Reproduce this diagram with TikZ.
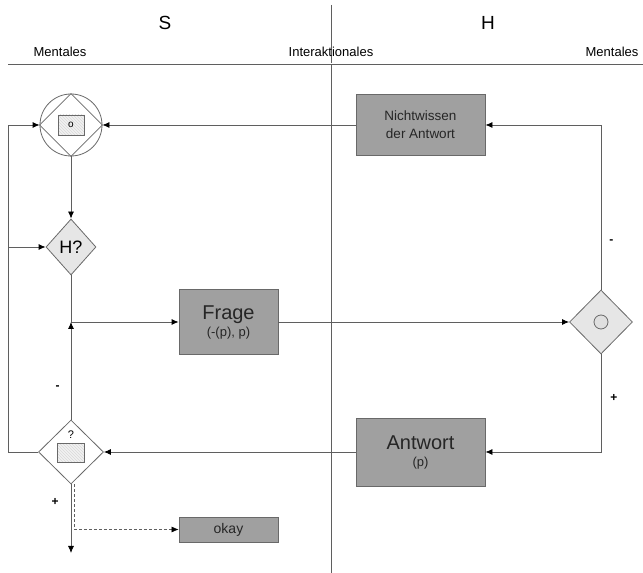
\documentclass[tikz,border=0pt]{standalone}
\usepackage{fontspec}
\setmainfont{Liberation Sans}
\usetikzlibrary{positioning}
\usetikzlibrary{shapes.geometric}
\usetikzlibrary{arrows.meta}
\usetikzlibrary{patterns}
\definecolor{boxgray}{RGB}{160,160,160}
\definecolor{rimgray}{RGB}{105,105,105}
\definecolor{gategray}{RGB}{230,230,230}
\definecolor{linegray}{RGB}{95,95,95}
\newcommand{\fs}[2]{\fontsize{#1}{#2}\selectfont}

\begin{document}
\begin{tikzpicture}
  [
    x=1pt, y=1pt,
    font=\fs{13}{15},
    line width=0.8pt,
    >={Latex[length=7pt,width=6pt,color=black]},
    flow/.style={draw=linegray,->},
    box/.style={
      rectangle,
      draw=rimgray,
      fill=boxgray,
      inner sep=0pt,
      align=center,
      text=black!85
    },
    gate/.style={diamond,draw=rimgray,fill=gategray,inner sep=0pt},
    hatch/.style={
      rectangle,
      draw=rimgray,
      preaction={fill=gray!10},
      pattern=north west lines,
      pattern color=gray!30,
      inner sep=0pt
    },
    sign/.style={font=\fs{12}{12}\bfseries,inner sep=2pt},
  ]
  \useasboundingbox (0,0) rectangle (643,573);

  % header
  \draw[linegray,line width=0.6pt] (331,568) -- (331,0);
  \draw[linegray,line width=0.5pt,double,double distance=1pt] (8,509) -- (643,509);
  \node[font=\fs{19}{19}] (s) at (165,550) {S};
  \node[font=\fs{19}{19}] (h) at (488,550) {H};
  \node (ment-s) at (60,521) {Mentales};
  \node (inter)  at (331,521) {Interaktionales};
  \node (ment-h) at (612,521) {Mentales};

  % nodes
  \node[circle,draw=rimgray,fill=white,minimum size=62pt,inner sep=0pt] (wissen) at (71,448) {};
  \draw[rimgray] (wissen.north) -- (wissen.east) -- (wissen.south) -- (wissen.west) -- cycle;
  \node[hatch,minimum width=26pt,minimum height=20pt,font=\fs{10}{10}] (wissen-p) at (wissen) {o};
  \node[gate,minimum width=50pt,minimum height=56pt,font=\fs{18}{18}] (hq) at (71,326) {H?};
  \node[box,minimum width=99pt,minimum height=65pt] (frage) at (228.5,251)
    {\fs{20}{20}Frage\\[2pt]\fs{13}{13}(-(p), p)};
  \node[box,minimum width=129pt,minimum height=61pt,font=\fs{13.5}{18}] (nicht) at (420.5,448)
    {Nichtwissen\\der Antwort};
  \node[gate,minimum width=63pt,minimum height=64pt] (pruef) at (601,251) {};
  \node[circle,draw=rimgray,fill=gray!25,minimum size=14pt,inner sep=0pt] (pruef-o) at (pruef) {};
  \node[box,minimum width=129pt,minimum height=68pt] (antwort) at (420.5,121)
    {\fs{20}{20}Antwort\\[2pt]\fs{13}{13}(p)};
  \node[gate,fill=white,minimum width=65pt,minimum height=64pt] (abgl) at (71,121) {};
  \node[hatch,minimum width=27pt,minimum height=19pt] (abgl-p) at (71,120) {};
  \node[font=\fs{11}{11},above=1pt of abgl-p] (abgl-q) {?};
  \node[box,minimum width=99pt,minimum height=25pt,font=\fs{14}{14}] (okay) at (228.5,43.5) {okay};

  \coordinate (links-u) at (8,121);
  \coordinate (ende) at (71,20);
  \coordinate (knoten) at (hq.south |- frage.west);

  % connectors
  \draw[flow] (nicht.west) -- (wissen.east);
  \draw[flow] (pruef.north) |- node[sign,pos=0.145,right=6pt] {-} (nicht.east);
  \draw[flow] (frage.east) -- (pruef.west);
  \draw[flow] (pruef.south) |- node[sign,pos=0.225,right=7pt] {+} (antwort.east);
  \draw[flow] (antwort.west) -- (abgl.east);
  \draw[flow] (abgl.west) -- (links-u) |- (wissen.west);
  \draw[flow] (links-u |- hq) -- (hq.west);
  \draw[flow] (wissen.south) -- (hq.north);
  \draw[flow] (hq.south) |- (frage.west);
  \draw[flow] (abgl.north) -- node[sign,pos=0.33,left=9pt] {-} (knoten);
  \draw[flow] (abgl.south) -- node[sign,pos=0.26,left=10pt] {+} (ende);
  \draw[flow,dashed,line width=0.6pt,dash pattern=on 3pt off 2pt]
    ([xshift=3pt]abgl.south) |- (okay.west);
\end{tikzpicture}
\end{document}
